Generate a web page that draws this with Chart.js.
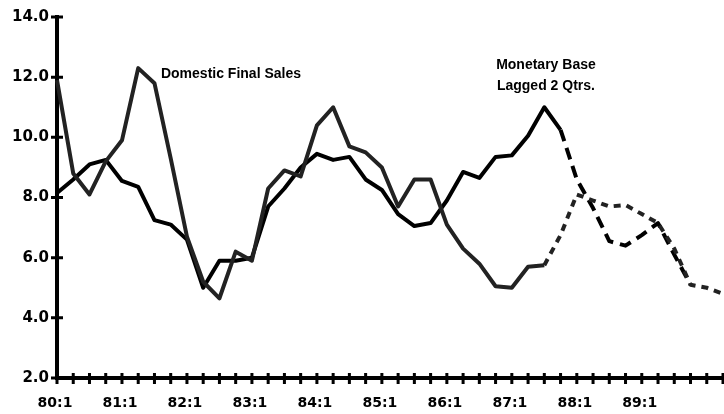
<!DOCTYPE html>
<html>
<head>
<meta charset="utf-8">
<script src="https://cdn.jsdelivr.net/npm/chart.js@4/dist/chart.umd.min.js"></script>
<style>
    html, body { margin: 0; padding: 0; background: #fff; }
</style>
</head>
<body>
<canvas id="myChart" width="724" height="414"></canvas>
<script>
// quarters on the x axis, 80:1 .. 90:2
const quarters = [
    '80:1','80:2','80:3','80:4','81:1','81:2','81:3','81:4',
    '82:1','82:2','82:3','82:4','83:1','83:2','83:3','83:4',
    '84:1','84:2','84:3','84:4','85:1','85:2','85:3','85:4',
    '86:1','86:2','86:3','86:4','87:1','87:2','87:3','87:4',
    '88:1','88:2','88:3','88:4','89:1','89:2','89:3','89:4',
    '90:1','90:2'
];
const labelledQuarters = ['80:1','81:1','82:1','83:1','84:1','85:1','86:1','87:1','88:1','89:1'];

// percent change
const domesticFinalSales = [
    11.9, 8.8, 8.1, 9.2, 9.9, 12.3, 11.8, 9.3,
    6.7, 5.2, 4.65, 6.2, 5.9, 8.3, 8.9, 8.7,
    10.4, 11.0, 9.7, 9.5, 9.0, 7.7, 8.6, 8.6,
    7.1, 6.3, 5.8, 5.05, 5.0, 5.7, 5.75, 6.75,
    8.1, 7.9, 7.7, 7.75, 7.45, 7.15, 6.3, 5.1,
    5.0, 4.8
];
const monetaryBaseLagged = [
    8.15, 8.6, 9.1, 9.25, 8.55, 8.35, 7.25, 7.1,
    6.6, 5.0, 5.9, 5.9, 6.0, 7.7, 8.3, 9.0,
    9.45, 9.25, 9.35, 8.6, 8.25, 7.45, 7.05, 7.15,
    7.9, 8.85, 8.65, 9.35, 9.4, 10.05, 11.0, 10.25,
    8.6, 7.65, 6.55, 6.4, 6.75, 7.15, 6.1, 5.1,
    null, null
];

// where the dashed (projected) part of each line starts
const salesDashFrom = 30;
const baseDashFrom = 31;

const labelFont = 'bold 14px "Liberation Sans", Arial, sans-serif';

// tick marks crossing the axes + the two line captions
const axisMarks = {
    id: 'axisMarks',
    afterDraw(chart) {
        const ctx = chart.ctx;
        const x = chart.scales.x, y = chart.scales.y;
        const left = chart.chartArea.left, bottom = chart.chartArea.bottom;
        ctx.save();
        ctx.strokeStyle = '#000';
        ctx.lineWidth = 3;
        ctx.beginPath();
        quarters.forEach(function(q, i){
            const px = x.getPixelForValue(i);
            ctx.moveTo(px, bottom - 5);
            ctx.lineTo(px, bottom + 6);
        });
        y.ticks.forEach(function(t){
            const py = y.getPixelForValue(t.value);
            ctx.moveTo(left - 6, py);
            ctx.lineTo(left + 6, py);
        });
        ctx.stroke();

        ctx.fillStyle = '#000';
        ctx.font = labelFont;
        ctx.textBaseline = 'middle';
        ctx.textAlign = 'left';
        ctx.fillText('Domestic Final Sales', x.getPixelForValue(6.4), y.getPixelForValue(12.1));
        ctx.textAlign = 'center';
        ctx.fillText('Monetary Base', x.getPixelForValue(30.1), y.getPixelForValue(12.4));
        ctx.fillText('Lagged 2 Qtrs.', x.getPixelForValue(30.1), y.getPixelForValue(11.7));
        ctx.restore();
    }
};

const data = {
    labels: quarters,
    datasets: [{
        label: 'Domestic Final Sales',
        data: domesticFinalSales,
        borderColor: '#222',
        borderWidth: 4,
        pointRadius: 0,
        tension: 0,
        borderJoinStyle: 'round',
        segment: {
            borderDash: ctx => ctx.p0DataIndex >= salesDashFrom ? [7, 6] : undefined
        }
    }, {
        label: 'Monetary Base Lagged 2 Qtrs.',
        data: monetaryBaseLagged,
        borderColor: '#000',
        borderWidth: 4,
        pointRadius: 0,
        tension: 0,
        borderJoinStyle: 'round',
        segment: {
            borderDash: ctx => ctx.p0DataIndex >= baseDashFrom ? [12, 7] : undefined
        }
    }]
};

const config = {
    type: 'line',
    data,
    plugins: [axisMarks],
    options: {
        responsive: false,
        animation: false,
        layout: { padding: { top: 14, right: 1, left: 0, bottom: 0 } },
        plugins: {
            legend: { display: false },
            tooltip: { enabled: false }
        },
        scales: {
            x: {
                offset: false,
                grid: { display: false, drawTicks: false },
                border: { display: true, width: 4, color: '#000' },
                ticks: {
                    autoSkip: false,
                    maxRotation: 0,
                    padding: 17,
                    labelOffset: -2,
                    color: '#000',
                    font: { family: 'DejaVu Sans', size: 14, weight: 'bold' },
                    callback: function(val, i){
                        return labelledQuarters.includes(quarters[i]) ? quarters[i] : '';
                    }
                },
                afterFit: function(scale){
                    scale.height = 36;
                    scale.paddingLeft = 0;
                    scale.paddingRight = 0;
                }
            },
            y: {
                min: 2,
                max: 14,
                grid: { display: false, drawTicks: false },
                border: { display: true, width: 4, color: '#000' },
                ticks: {
                    stepSize: 2,
                    padding: 8,
                    color: '#000',
                    font: { family: 'DejaVu Sans', size: 15, weight: 'bold' },
                    callback: v => v.toFixed(1)
                },
                afterFit: function(scale){ scale.width = 57; }
            }
        }
    }
};

var myChart = new Chart(document.getElementById('myChart'), config);
</script>
</body>
</html>
